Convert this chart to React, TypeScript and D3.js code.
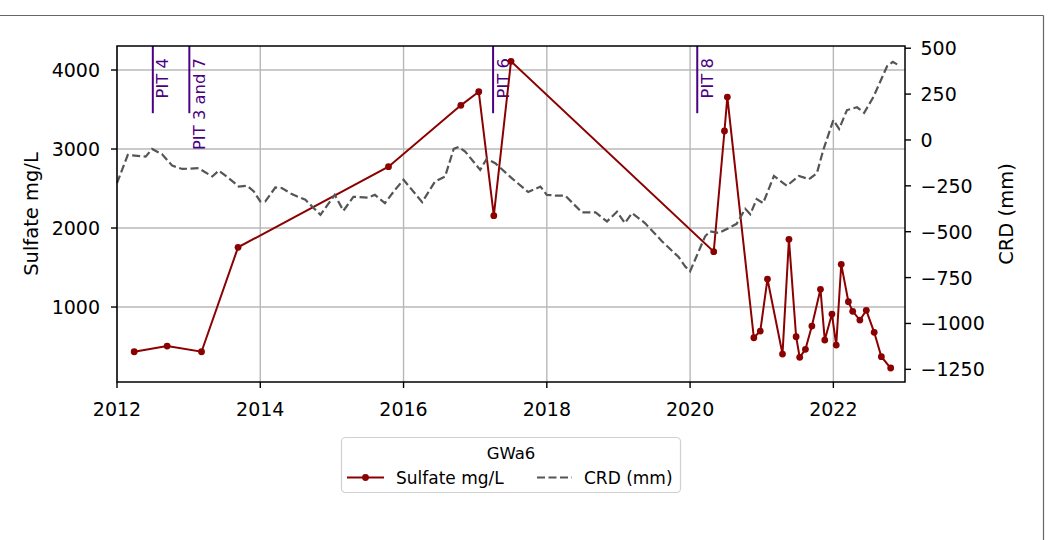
import React from "react";
import * as d3 from "d3";

// sulfate samples (decimal year, mg/L)
const sulfateDates = [
  2012.24, 2012.7, 2013.18, 2013.69, 2015.79, 2016.8, 2017.05, 2017.26, 2017.5,
  2020.33, 2020.48, 2020.52, 2020.89, 2020.98, 2021.08, 2021.29, 2021.38, 2021.48,
  2021.53, 2021.61, 2021.7, 2021.82, 2021.88, 2021.98, 2022.04, 2022.11, 2022.21,
  2022.27, 2022.37, 2022.46, 2022.57, 2022.67, 2022.8,
];
const sulfateValues = [
  434, 506, 434, 1756, 2776, 3553, 3725, 2156, 4110,
  1700, 3228, 3658, 611, 696, 1354, 405, 1857, 624,
  363, 465, 759, 1224, 582, 911, 519, 1540, 1067,
  946, 835, 958, 680, 371, 228,
];

// cumulative rainfall departure (decimal year, mm)
const crdDates = [
  2012.0, 2012.15, 2012.4, 2012.49, 2012.63, 2012.77, 2012.91, 2013.14, 2013.33, 2013.42,
  2013.56, 2013.7, 2013.82, 2013.91, 2014.0, 2014.07, 2014.21, 2014.3, 2014.44, 2014.63,
  2014.84, 2015.04, 2015.16, 2015.3, 2015.51, 2015.6, 2015.74, 2015.88, 2016.0, 2016.26,
  2016.44, 2016.58, 2016.7, 2016.77, 2016.86, 2017.07, 2017.16, 2017.28, 2017.51, 2017.74,
  2017.91, 2018.0, 2018.12, 2018.26, 2018.49, 2018.68, 2018.84, 2018.98, 2019.09, 2019.19,
  2019.37, 2019.61, 2019.84, 2019.93, 2020.0, 2020.21, 2020.28, 2020.4, 2020.54, 2020.65,
  2020.77, 2020.84, 2020.93, 2021.02, 2021.17, 2021.35, 2021.52, 2021.66, 2021.77, 2021.86,
  2022.0, 2022.08, 2022.19, 2022.33, 2022.43, 2022.56, 2022.75, 2022.83, 2022.93,
];
const crdValues = [
  -235, -82, -91, -49, -78, -140, -158, -154, -199, -167,
  -208, -254, -250, -281, -335, -335, -259, -262, -295, -326,
  -408, -299, -386, -310, -314, -299, -344, -272, -217, -339,
  -226, -199, -49, -38, -63, -163, -103, -127, -208, -284,
  -254, -299, -303, -304, -395, -395, -444, -391, -453, -399,
  -453, -553, -638, -689, -716, -525, -498, -507, -480, -457,
  -375, -405, -322, -344, -196, -250, -196, -214, -181, -54,
  109, 60, 163, 178, 148, 235, 402, 426, 402,
];

const pitDates = [2012.5, 2013.01, 2017.25, 2020.1];
const pitLabels = ["PIT 4", "PIT 3 and 7", "PIT 6", "PIT 8"];

const xTicks = [2012, 2014, 2016, 2018, 2020, 2022];
const leftTicks = [1000, 2000, 3000, 4000];
const rightTicks = [-1250, -1000, -750, -500, -250, 0, 250, 500];

const W = 1049;
const H = 540;
const m = { left: 117, right: 905, top: 46, bottom: 382 };
const font = "DejaVu Sans, sans-serif";
const red = "#8b0000";
const pitColor = "#4b0082";
const fs = 19;

const App: React.FC = () => {
  const x = d3.scaleLinear().domain([2012, 2023]).range([m.left, m.right]);
  const yL = d3.scaleLinear().domain([51, 4304]).range([m.bottom, m.top]);
  const yR = d3.scaleLinear().domain([-1319, 512]).range([m.bottom, m.top]);

  const sulfate = sulfateDates.map((d, i) => [d, sulfateValues[i]] as [number, number]);
  const crd = crdDates.map((d, i) => [d, crdValues[i]] as [number, number]);

  const sulfateLine = d3
    .line<[number, number]>()
    .x((d) => x(d[0]))
    .y((d) => yL(d[1]));
  const crdLine = d3
    .line<[number, number]>()
    .x((d) => x(d[0]))
    .y((d) => yR(d[1]));

  const midY = (m.top + m.bottom) / 2;
  const pitBottom = m.top + (m.bottom - m.top) * 0.2;

  return (
    <svg
      width={W}
      height={H}
      style={{ position: "absolute", left: 0, top: 0, background: "#fff" }}
      fontFamily={font}
    >
      {/* figure frame */}
      <line x1={0} x2={1043.5} y1={15.5} y2={15.5} stroke="#666" strokeWidth={1.2} />
      <line x1={1043.5} x2={1043.5} y1={15.5} y2={H} stroke="#666" strokeWidth={1.2} />

      {/* grid */}
      {xTicks.map((t) => (
        <line key={"gx" + t} x1={x(t)} x2={x(t)} y1={m.top} y2={m.bottom} stroke="#b8b8b8" strokeWidth={1.4} />
      ))}
      {leftTicks.map((t) => (
        <line key={"gy" + t} x1={m.left} x2={m.right} y1={yL(t)} y2={yL(t)} stroke="#b8b8b8" strokeWidth={1.4} />
      ))}

      {/* PIT markers */}
      {pitDates.map((d, i) => (
        <g key={"pit" + i}>
          <line x1={x(d)} x2={x(d)} y1={m.top} y2={pitBottom} stroke={pitColor} strokeWidth={2} />
          <text
            transform={`translate(${x(d) + 15.5},${m.top + 12}) rotate(-90)`}
            textAnchor="end"
            fontSize={16.4}
            fill={pitColor}
          >
            {pitLabels[i]}
          </text>
        </g>
      ))}

      {/* sulfate */}
      <path d={sulfateLine(sulfate) || ""} fill="none" stroke={red} strokeWidth={2} />
      {sulfate.map((d, i) => (
        <circle key={"s" + i} cx={x(d[0])} cy={yL(d[1])} r={3.4} fill={red} />
      ))}

      {/* CRD on twin axis */}
      <path
        d={crdLine(crd) || ""}
        fill="none"
        stroke="#555"
        strokeWidth={2.2}
        strokeDasharray="8,3.5"
      />

      {/* spines */}
      <rect
        x={m.left}
        y={m.top}
        width={m.right - m.left}
        height={m.bottom - m.top}
        fill="none"
        stroke="#000"
        strokeWidth={1.5}
      />

      {/* bottom axis */}
      {xTicks.map((t) => (
        <g key={"xt" + t}>
          <line x1={x(t)} x2={x(t)} y1={m.bottom} y2={m.bottom + 6} stroke="#000" strokeWidth={1.4} />
          <text x={x(t)} y={m.bottom + 33.5} textAnchor="middle" fontSize={fs}>
            {t}
          </text>
        </g>
      ))}

      {/* left axis */}
      {leftTicks.map((t) => (
        <g key={"yl" + t}>
          <line x1={m.left - 6} x2={m.left} y1={yL(t)} y2={yL(t)} stroke="#000" strokeWidth={1.4} />
          <text x={m.left - 17} y={yL(t) + 7} textAnchor="end" fontSize={fs}>
            {t}
          </text>
        </g>
      ))}
      <text transform={`translate(37.5,${midY}) rotate(-90)`} textAnchor="middle" fontSize={19.5}>
        Sulfate mg/L
      </text>

      {/* right axis */}
      {rightTicks.map((t) => (
        <g key={"yr" + t}>
          <line x1={m.right} x2={m.right + 6} y1={yR(t)} y2={yR(t)} stroke="#000" strokeWidth={1.4} />
          <text x={m.right + 15.5} y={yR(t) + 7} textAnchor="start" fontSize={fs}>
            {t < 0 ? "\u2212" + Math.abs(t) : t}
          </text>
        </g>
      ))}
      <text transform={`translate(1013,${midY}) rotate(-90)`} textAnchor="middle" fontSize={19.5}>
        CRD (mm)
      </text>

      {/* legend */}
      <g>
        <rect x={341.5} y={437.5} width={339} height={55} rx={4} fill="#fff" fillOpacity={0.8} stroke="#d0d0d0" strokeWidth={1.2} />
        <text x={511} y={459} textAnchor="middle" fontSize={16.5}>
          GWa6
        </text>
        <line x1={347} x2={384} y1={477.5} y2={477.5} stroke={red} strokeWidth={2} />
        <circle cx={365.5} cy={477.5} r={3.4} fill={red} />
        <text x={396} y={483.5} fontSize={17}>
          Sulfate mg/L
        </text>
        <line x1={537} x2={572} y1={477.5} y2={477.5} stroke="#555" strokeWidth={2.2} strokeDasharray="8,3.5" />
        <text x={584} y={483.5} fontSize={17}>
          CRD (mm)
        </text>
      </g>
    </svg>
  );
};

export default App;
